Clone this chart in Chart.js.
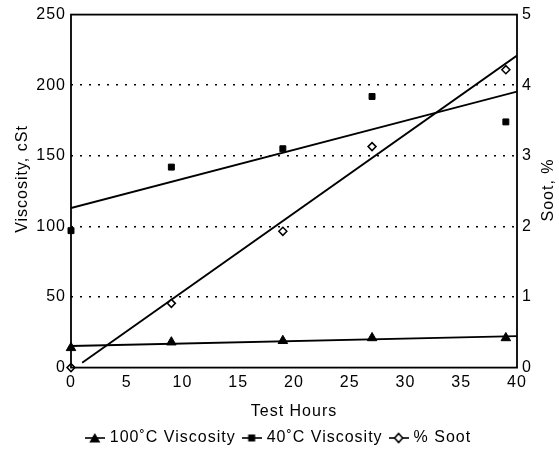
<!DOCTYPE html>
<html>
<head>
<meta charset="utf-8">
<script src="https://cdn.jsdelivr.net/npm/chart.js@4.4.0/dist/chart.umd.min.js"></script>
<style>
  html, body { margin: 0; padding: 0; background: #fff; }
  #wrap { width: 559px; height: 470px; }
</style>
</head>
<body>
<div id="wrap"><canvas id="chart"></canvas></div>
<script>
const hours = [0, 9, 19, 27, 39];
const visc100 = [14, 18, 19, 21, 21];
const visc40 = [97, 142, 155, 192, 174];
const soot = [0, 0.91, 1.93, 3.13, 4.22];

// fitted lines, end points
const fitHours = [0, 40];
const fit100 = [15.3, 22.3];
const fit40 = [113, 195.5];
const fitSootHours = [1, 40];
const fitSoot = [0.07, 4.42];

const seriesNames = ['100\u02DAC Viscosity', '40\u02DAC Viscosity', '% Soot'];
const axisTitles = { x: 'Test Hours', y: 'Viscosity, cSt', y1: 'Soot, %' };

const ink = '#000';
const font = 'Arial, "Liberation Sans", Helvetica, sans-serif';
const fsize = 16;

function pts(xs, ys) {
    return xs.map((x, i) => ({ x: x, y: ys[i] }));
}

// small legend swatch: a line with the marker on it
function swatch(style) {
    const c = document.createElement('canvas');
    c.width = 20; c.height = 12;
    const g = c.getContext('2d');
    g.strokeStyle = ink; g.fillStyle = ink; g.lineWidth = 1.6;
    g.beginPath(); g.moveTo(0, 6); g.lineTo(20, 6); g.stroke();
    g.beginPath();
    if (style === 'triangle') {
        g.moveTo(10, 1); g.lineTo(15.5, 10.5); g.lineTo(4.5, 10.5); g.closePath(); g.fill();
    } else if (style === 'rect') {
        g.fillRect(6.5, 2.5, 7, 7);
    } else {
        g.moveTo(10, 1.5); g.lineTo(14, 6); g.lineTo(10, 10.5); g.lineTo(6, 6); g.closePath();
        g.fillStyle = '#fff'; g.fill(); g.stroke();
    }
    return c;
}

// the scanned lettering is a bit wider than Arial
const spacing = {
    id: 'spacing',
    beforeUpdate(chart) { chart.ctx.letterSpacing = '1px'; },
    beforeDraw(chart) { chart.ctx.letterSpacing = '1px'; }
};

const frame = {
    id: 'frame',
    afterDraw(chart) {
        const a = chart.chartArea, ctx = chart.ctx;
        ctx.save();
        ctx.strokeStyle = ink;
        ctx.lineWidth = 1.8;
        ctx.strokeRect(a.left, a.top, a.right - a.left, a.bottom - a.top);
        ctx.fillStyle = ink;
        ctx.font = fsize + 'px ' + font;
        ctx.textAlign = 'center';
        ctx.textBaseline = 'middle';
        // both y titles read bottom to top
        ctx.save();
        ctx.translate(23, 179);
        ctx.rotate(-Math.PI / 2);
        ctx.fillText(axisTitles.y, 0, 0);
        ctx.restore();
        ctx.translate(549, 190);
        ctx.rotate(-Math.PI / 2);
        ctx.fillText(axisTitles.y1, 0, 0);
        ctx.restore();
    }
};

new Chart(document.getElementById('chart'), {
    type: 'scatter',
    data: {
        datasets: [
            { label: seriesNames[0], data: pts(hours, visc100), yAxisID: 'y', pointStyle: 'triangle',
              pointRadius: 5.5, backgroundColor: ink, borderColor: ink, borderWidth: 1, clip: false },
            { label: seriesNames[1], data: pts(hours, visc40), yAxisID: 'y', pointStyle: 'rect',
              pointRadius: 4.2, backgroundColor: ink, borderColor: ink, borderWidth: 1, clip: false },
            { label: seriesNames[2], data: pts(hours, soot), yAxisID: 'y1', pointStyle: 'rectRot',
              pointRadius: 4, backgroundColor: '#fff', borderColor: ink, borderWidth: 1.5, clip: false },
            { label: 'fit100', data: pts(fitHours, fit100), yAxisID: 'y', showLine: true,
              pointRadius: 0, borderColor: ink, borderWidth: 1.9 },
            { label: 'fit40', data: pts(fitHours, fit40), yAxisID: 'y', showLine: true,
              pointRadius: 0, borderColor: ink, borderWidth: 1.9 },
            { label: 'fitSoot', data: pts(fitSootHours, fitSoot), yAxisID: 'y1', showLine: true,
              pointRadius: 0, borderColor: ink, borderWidth: 1.9 }
        ]
    },
    options: {
        responsive: true,
        maintainAspectRatio: false,
        animation: false,
        layout: { padding: { top: 4, left: 0, right: 0, bottom: 14 } },
        plugins: {
            tooltip: { enabled: false },
            legend: {
                position: 'bottom',
                labels: {
                    color: ink,
                    font: { family: font, size: fsize },
                    usePointStyle: true,
                    pointStyleWidth: 14,
                    padding: 9,
                    generateLabels: chart => ['triangle', 'rect', 'rectRot'].map((s, i) => ({
                        text: seriesNames[i], pointStyle: swatch(s), datasetIndex: i,
                        fontColor: ink, lineWidth: 0, hidden: false
                    }))
                }
            }
        },
        scales: {
            x: {
                type: 'linear', min: 0, max: 40,
                border: { display: false },
                grid: { display: false, drawTicks: false },
                ticks: { stepSize: 5, color: ink, padding: 5, font: { family: font, size: fsize } },
                title: { display: true, text: axisTitles.x, color: ink, padding: { top: 5, bottom: 0 },
                         font: { family: font, size: fsize } }
            },
            y: {
                position: 'left', min: 0, max: 250,
                border: { display: false, dash: [2, 7] },
                grid: {
                    drawTicks: false, lineWidth: 1.5,
                    color: c => (c.tick.value === 0 || c.tick.value === 250) ? 'rgba(0,0,0,0)' : ink
                },
                ticks: { stepSize: 50, color: ink, padding: 5, font: { family: font, size: fsize } },
                afterFit: s => { s.width = 71; }
            },
            y1: {
                position: 'right', min: 0, max: 5,
                border: { display: false },
                grid: { display: false, drawTicks: false },
                ticks: { stepSize: 1, color: ink, padding: 5, font: { family: font, size: fsize } },
                afterFit: s => { s.width = 42; }
            }
        }
    },
    plugins: [spacing, frame]
});
</script>
</body>
</html>
